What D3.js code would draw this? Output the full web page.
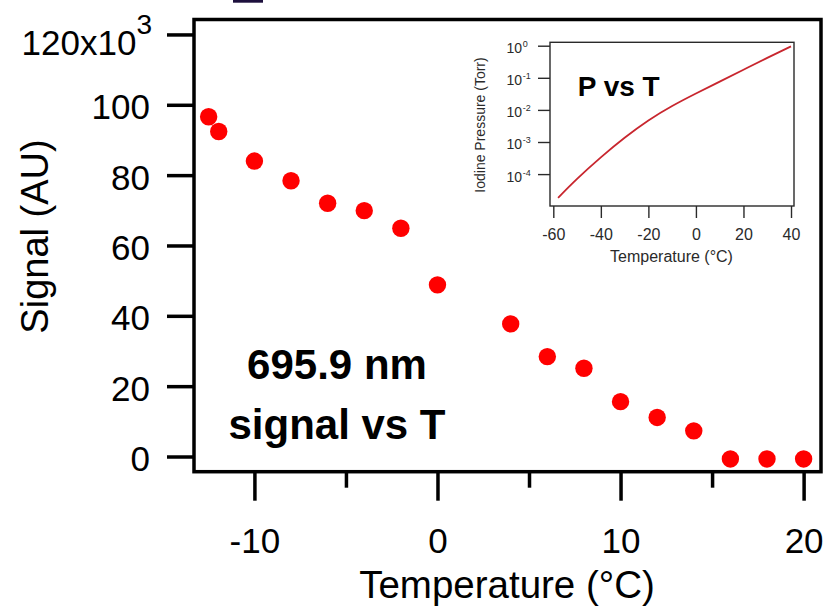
<!DOCTYPE html>
<html>
<head>
<meta charset="utf-8">
<script src="https://cdn.jsdelivr.net/npm/d3@7"></script>
<style>
  html, body { margin: 0; padding: 0; background: #fff; }
  svg { display: block; font-family: "Liberation Sans", Arial, Helvetica, sans-serif; }
</style>
</head>
<body>
<svg id="chart" width="827" height="606"></svg>
<script>
// Main panel: 695.9 nm signal versus cell temperature
const temperatures = [-12.5, -11.95, -10, -8, -6, -4, -2, 0, 4, 6, 8, 10, 12, 14, 16, 18, 20];
const signals      = [96.6, 92.4, 84.0, 78.4, 72.0, 69.9, 64.9, 48.8, 37.7, 28.4, 25.1, 15.6, 11.1, 7.3, -0.7, -0.7, -0.7];
const xMajorTicks = [-10, 0, 10, 20];
const xMinorTicks = [-5, 5, 15];
const yTicks = [0, 20, 40, 60, 80, 100, 120];

// Inset: iodine vapour pressure versus temperature
const insetTemps     = [-58, -50, -40, -30, -20, -10, 0, 10, 20, 30, 40];
const insetPressures = [1.82e-5, 7.08e-5, 3.31e-4, 1.35e-3, 4.68e-3, 1.32e-2, 3.24e-2, 7.59e-2, 0.178, 0.417, 0.955];
const insetXTicks = [-60, -40, -20, 0, 20, 40];
const insetYExponents = [0, -1, -2, -3, -4];

const svg = d3.select("#chart");

// ---------- main panel ----------
const frame = { left: 194, right: 821, top: 19.5, bottom: 471.7 };
const x = d3.scaleLinear().domain([-13.3, 20.95]).range([frame.left, frame.right]);
const y = d3.scaleLinear().domain([-4.32, 124.25]).range([frame.bottom, frame.top]);

// cut-off mark above the frame
svg.append("rect").attr("x", 233).attr("y", 0).attr("width", 30).attr("height", 2.7).attr("fill", "#1d103d");

// x axis: major and minor ticks hanging below the frame
const xMajor = svg.append("g").attr("transform", `translate(0,${frame.bottom})`)
  .call(d3.axisBottom(x).tickValues(xMajorTicks).tickSize(29).tickFormat(d3.format("d")));
xMajor.select(".domain").remove();
xMajor.selectAll("line").attr("stroke", "#000").attr("stroke-width", 3.5);
xMajor.selectAll("text").attr("fill", "#000").attr("font-size", 35).attr("dy", null).attr("y", 81.5)
  .text(d => d < 0 ? "-" + Math.abs(d) : d);

const xMinor = svg.append("g").attr("transform", `translate(0,${frame.bottom})`)
  .call(d3.axisBottom(x).tickValues(xMinorTicks).tickSize(16).tickFormat(""));
xMinor.select(".domain").remove();
xMinor.selectAll("line").attr("stroke", "#000").attr("stroke-width", 3.5);

// y axis
const yAxis = svg.append("g").attr("transform", `translate(${frame.left},0)`)
  .call(d3.axisLeft(y).tickValues(yTicks).tickSize(27).tickFormat(d3.format("d")));
yAxis.select(".domain").remove();
yAxis.selectAll("line").attr("stroke", "#000").attr("stroke-width", 3.5);
yAxis.selectAll("text").attr("fill", "#000").attr("font-size", 35).attr("x", -44).attr("dy", "0.4em");
// top label written as 120x10^3
yAxis.selectAll("text").filter(d => d === 120).each(function () {
  const t = d3.select(this);
  t.text("120x10").attr("dy", null).attr("y", 20.5).attr("x", -42);
  t.append("tspan").attr("font-size", 28).attr("dy", -21.5).text("3");
});

// frame
svg.append("rect")
  .attr("x", frame.left).attr("y", frame.top)
  .attr("width", frame.right - frame.left).attr("height", frame.bottom - frame.top)
  .attr("fill", "none").attr("stroke", "#000").attr("stroke-width", 3.5);

// data points
svg.append("g").selectAll("circle")
  .data(temperatures.map((t, i) => ({ t, s: signals[i] })))
  .join("circle")
  .attr("cx", d => x(d.t)).attr("cy", d => y(d.s)).attr("r", 8.7)
  .attr("fill", "#ff0000");

// axis titles
svg.append("text").attr("x", 507).attr("y", 598).attr("text-anchor", "middle")
  .attr("font-size", 38.5).attr("fill", "#000").text("Temperature (°C)");
svg.append("text").attr("transform", "translate(48,236.5) rotate(-90)").attr("text-anchor", "middle")
  .attr("font-size", 38).attr("fill", "#000").text("Signal (AU)");

// panel annotation
const note = svg.append("text").attr("text-anchor", "middle").attr("font-size", 42)
  .attr("font-weight", "bold").attr("fill", "#000");
note.append("tspan").attr("x", 337).attr("y", 379).text("695.9 nm");
note.append("tspan").attr("x", 337).attr("y", 439).text("signal vs T");

// ---------- inset ----------
const ink = "#2a2a2a";
const inset = { left: 550, right: 794, top: 42.3, bottom: 206 };
const ix = d3.scaleLinear().domain([-61.39, 41.26]).range([inset.left, inset.right]);
const iy = d3.scaleLog().domain([Math.pow(10, -4.994), Math.pow(10, 0.106)]).range([inset.bottom, inset.top]);

svg.append("rect").attr("x", inset.left - 2).attr("y", inset.top - 2)
  .attr("width", inset.right - inset.left + 4).attr("height", inset.bottom - inset.top + 4)
  .attr("fill", "#fff");

const ixAxis = svg.append("g").attr("transform", `translate(0,${inset.bottom})`)
  .call(d3.axisBottom(ix).tickValues(insetXTicks).tickSize(12).tickFormat(d3.format("d")));
ixAxis.select(".domain").remove();
ixAxis.selectAll("line").attr("stroke", ink).attr("stroke-width", 1.4);
ixAxis.selectAll("text").attr("fill", ink).attr("font-size", 16).attr("dy", null).attr("y", 34)
  .text(d => d < 0 ? "-" + Math.abs(d) : d);

const iyAxis = svg.append("g").attr("transform", `translate(${inset.left},0)`)
  .call(d3.axisLeft(iy).tickValues(insetYExponents.map(e => Math.pow(10, e))).tickSize(12).tickFormat(""));
iyAxis.select(".domain").remove();
iyAxis.selectAll("line").attr("stroke", ink).attr("stroke-width", 1.4);

const iyLabels = svg.append("g").selectAll("g")
  .data(insetYExponents).join("g")
  .attr("transform", e => `translate(${inset.left},${iy(Math.pow(10, e))})`);
iyLabels.append("text").attr("x", -28).attr("y", 7.5).attr("text-anchor", "end")
  .attr("font-size", 14).attr("fill", ink).text("10");
iyLabels.append("text").attr("x", -27.3).attr("y", 1.5)
  .attr("font-size", 9).attr("fill", ink).text(e => e < 0 ? "-" + Math.abs(e) : e);

svg.append("rect")
  .attr("x", inset.left).attr("y", inset.top)
  .attr("width", inset.right - inset.left).attr("height", inset.bottom - inset.top)
  .attr("fill", "none").attr("stroke", ink).attr("stroke-width", 1.4);

const curve = d3.line()
  .x(d => ix(d.t)).y(d => iy(d.p))
  .curve(d3.curveNatural);
svg.append("path")
  .datum(insetTemps.map((t, i) => ({ t, p: insetPressures[i] })))
  .attr("d", curve)
  .attr("fill", "none").attr("stroke", "#c8262e").attr("stroke-width", 1.8);

svg.append("text").attr("x", 671.5).attr("y", 262).attr("text-anchor", "middle")
  .attr("font-size", 16).attr("fill", ink).text("Temperature (°C)");
svg.append("text").attr("transform", "translate(485,125) rotate(-90)").attr("text-anchor", "middle")
  .attr("font-size", 14).attr("fill", ink).text("Iodine Pressure (Torr)");

svg.append("text").attr("x", 577.7).attr("y", 95.7)
  .attr("font-size", 28).attr("font-weight", "bold").attr("fill", "#000").text("P vs T");
</script>
</body>
</html>
